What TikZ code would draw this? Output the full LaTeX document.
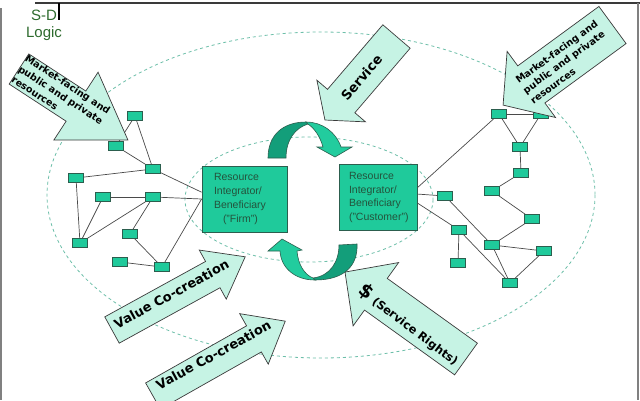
\documentclass[tikz,border=0pt]{standalone}
\usepackage{fontspec}
\setmainfont{Liberation Sans}
\newfontfamily\arrowfont{DejaVu Sans}
\usepackage{xcolor}
\usepackage{tikz}
\usetikzlibrary{
  arrows.meta,
}
\definecolor{ink}{HTML}{3A3A3A}
\definecolor{edgegray}{HTML}{4A4A4A}
\definecolor{logo}{HTML}{2E6B2E}
\definecolor{boxgreen}{HTML}{1FCA9B}
\definecolor{boxline}{HTML}{2C5E4E}
\definecolor{boxtext}{HTML}{24533C}
\definecolor{mint}{HTML}{C6F3E4}
\definecolor{ribbon}{HTML}{22CC9E}
\definecolor{ribbondark}{HTML}{139E7A}
\definecolor{ringline}{HTML}{6DBFA9}
\tikzset{
  res/.style={
    draw=boxline,
    fill=boxgreen,
    line width=0.6pt,
    minimum width=15pt,
    minimum height=9pt,
    inner sep=0pt,
  },
  actor/.style={
    draw=boxline,
    fill=boxgreen,
    line width=0.8pt,
    text=boxtext,
    font=\fontsize{10.5}{13.7}\selectfont,
    align=left,
    minimum height=66pt,
    inner ysep=0pt,
  },
  link/.style={draw=edgegray, line width=0.7pt},
  zone/.style={draw=ringline, dash pattern=on 3pt off 3pt, line width=0.8pt},
  arrowbody/.style={fill=mint, draw=ink, line width=0.7pt},
  atext/.style={text=black, inner sep=0pt, align=left},
  logotext/.style={text=logo, font=\fontsize{15}{15}\selectfont, inner sep=0pt},
  pics/blockarrow/.style n args={4}{
    code={
      \filldraw[arrowbody] (0,#2) -- ({#1-#4},#2) -- ({#1-#4},#3) -- (#1,0)
        -- ({#1-#4},-#3) -- ({#1-#4},-#2) -- (0,-#2) -- cycle;
    }
  },
}

\begin{document}
\begin{tikzpicture}[x=1pt,y=-1pt]
  \useasboundingbox (0,0) rectangle (640,400);
  \fill[white] (0,0) rectangle (640,400);

  % slide frame and title
  \draw[ink, line width=1.8pt] (35,3) -- (640,3);
  \draw[gray, line width=1.2pt] (1,8) -- (1,400);
  \draw[gray, line width=1.5pt] (638,3) -- (638,400);
  \draw[black, line width=1.5pt] (59,3) -- (59,20);
  \node[logotext] (sd) at (44,15) {S-D};
  \node[logotext] (logic) at (44,34) {Logic};

  % service ecosystem and dyad
  \draw[zone] (321,195) ellipse (274 and 163);
  \draw[zone] (309,199.5) ellipse (124 and 62.5);

  \node[actor, text width=61pt, inner xsep=12pt] (firm) at (244.5,199)
    {Resource\\Integrator/\\Beneficiary\\\hspace*{9pt}("Firm")};
  \node[actor, text width=58pt, inner xsep=10pt] (customer) at (378,197.5)
    {Resource\\Integrator/\\Beneficiary\\("Customer")};

  % firm side network
  \foreach \n/\x/\y in {l1/135/116,l2/116/146,l3/153/169,l4/76/178,l5/103/197,
    l6/153/197,l7/80/243,l8/130/234,l9/120/262,l10/162/267}
    \node[res] (\n) at (\x,\y) {};
  \foreach \a/\b in {l1/l2,l1/l3,l2/l3,l4/l3,l4/l7,l5/l6,l5/l7,l7/l6,l6/l8,
    l8/l10,l9/l10}
    \draw[link] (\a) -- (\b);
  \draw[link] (l3) -- (firm.171);
  \draw[link] (l6) -- (firm.west);
  \draw[link] (l10) -- (firm.west);

  % customer side network
  \foreach \n/\x/\y in {r1/499/114,r2/541/114,r3/520/147,r4/521/173,r5/492/191,
    r6/445/196,r7/532/219,r8/459/230,r9/492/245,r10/544/251,r11/458/263,r12/510/283}
    \node[res] (\n) at (\x,\y) {};
  \foreach \a/\b in {r1/r2,r1/r3,r2/r3,r3/r4,r4/r5,r5/r7,r7/r9,r9/r10,r9/r12,
    r10/r12,r6/r9,r8/r11,r8/r12}
    \draw[link] (\a) -- (\b);
  \draw[link] (customer.14) -- (r1);
  \draw[link] (customer.5) -- (r6);
  \draw[link] (customer.-8) -- (r8);

  % block arrows
  \pic[rotate=-33.1] at (19,69) {blockarrow={130}{18}{40.5}{62}};
  \node[atext, rotate=-33.1, font=\arrowfont\bfseries\fontsize{9.6}{12.5}\selectfont]
    (mktleft) at (61,95) {Market-facing and\\public and private\\resources};

  \pic[rotate=216.2] at (612.5,25) {blockarrow={135.6}{23}{41}{35}};
  \node[atext, rotate=36.2, font=\arrowfont\bfseries\fontsize{9.6}{12.5}\selectfont]
    (mktright) at (564,62) {Market-facing and\\public and private\\resources};

  \pic[rotate=229.4] at (396.5,36.5) {blockarrow={110}{18}{32}{25}};
  \node[atext, rotate=49.4, font=\arrowfont\bfseries\fontsize{13.2}{13.2}\selectfont]
    (service) at (361.5,77.5) {Service};

  \pic[rotate=28.8] at (112,330) {blockarrow={152}{15}{28}{37}};
  \node[atext, rotate=28.8, font=\arrowfont\bfseries\fontsize{12.9}{12.9}\selectfont]
    (valueup) at (171.5,294) {Value Co-creation};

  \pic[rotate=29.5] at (153,396) {blockarrow={152}{15}{29}{36}};
  \node[atext, rotate=28.8, font=\arrowfont\bfseries\fontsize{12.9}{12.9}\selectfont]
    (valuelow) at (213.5,355) {Value Co-creation};

  \pic[rotate=144.3] at (466,359) {blockarrow={149}{19.5}{39}{38}};
  \node[atext, rotate=-37, font=\arrowfont\bfseries\fontsize{11.5}{11.5}\selectfont]
    (rights) at (409.5,324.5) {{\fontsize{19}{19}\selectfont\$} (Service Rights)};

  % exchange loop between the two actors
  \filldraw[fill=ribbondark, draw=boxline, line width=0.6pt]
    (268,158) .. controls (268,135) and (283,122) .. (306,122)
    -- (308,124) .. controls (295,128) and (286,140) .. (286,158) -- cycle;
  \filldraw[fill=ribbon, draw=boxline, line width=0.6pt]
    (306,122) .. controls (322,122) and (336,132) .. (341,147)
    -- (352,147) -- (335,157) -- (317,147) -- (323,147)
    .. controls (320,136) and (314,128) .. (308,124) -- cycle;
  \filldraw[fill=ribbondark, draw=boxline, line width=0.6pt]
    (339,245) -- (357,244) .. controls (358,265) and (345,280) .. (315,280)
    -- (313,278) .. controls (330,276) and (339,262) .. (339,245) -- cycle;
  \filldraw[fill=ribbon, draw=boxline, line width=0.6pt]
    (315,280) .. controls (295,280) and (281,268) .. (280,251)
    -- (268,251) -- (282,239) -- (302,250) -- (297,251)
    .. controls (298,265) and (305,275) .. (313,278) -- cycle;
\end{tikzpicture}
\end{document}
